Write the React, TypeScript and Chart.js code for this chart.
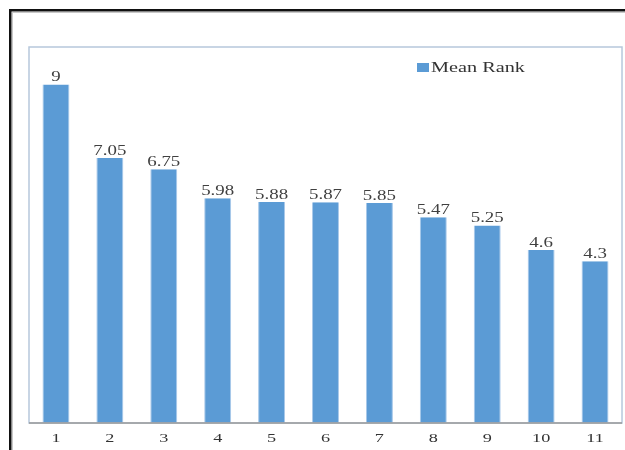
import React, { useEffect, useRef } from "react";
import { Chart, registerables } from "chart.js";

Chart.register(...registerables);

const categories: string[] = ["1", "2", "3", "4", "5", "6", "7", "8", "9", "10", "11"];
const meanRank: number[] = [9, 7.05, 6.75, 5.98, 5.88, 5.87, 5.85, 5.47, 5.25, 4.6, 4.3];
const seriesLabel = "Mean Rank";
const yMin = 0;
const yMax = 10;

const FONT = "'Liberation Serif', 'Times New Roman', serif";
const STRETCH = 1.35;

function stretchedText(ctx: any, text: string, x: number, y: number, align: string) {
  ctx.save();
  ctx.translate(x, y);
  ctx.scale(STRETCH, 1);
  ctx.textAlign = align;
  ctx.fillText(text, 0, 0);
  ctx.restore();
}

const framePlugin = {
  id: "framePlugin",
  beforeDraw(chart: any) {
    const ctx = chart.ctx;
    ctx.save();
    ctx.fillStyle = "#ffffff";
    ctx.fillRect(0, 0, chart.width, chart.height);
    ctx.fillStyle = "#111111";
    ctx.fillRect(9, 9, chart.width, 2.5);
    ctx.fillRect(9, 9, 2.5, chart.height);
    ctx.fillStyle = "#c8c8c8";
    ctx.fillRect(12, 12, chart.width, 1);
    ctx.fillRect(12, 12, 1, chart.height);
    ctx.restore();
  },
  afterDraw(chart: any) {
    const ctx = chart.ctx;
    const a = chart.chartArea;
    ctx.save();
    ctx.strokeStyle = "#b7c8dc";
    ctx.lineWidth = 1.5;
    ctx.strokeRect(a.left, a.top, a.right - a.left, a.bottom - a.top);
    ctx.strokeStyle = "#9a9a9a";
    ctx.beginPath();
    ctx.moveTo(a.left, a.bottom);
    ctx.lineTo(a.right, a.bottom);
    ctx.stroke();
    const xs = chart.scales.x;
    ctx.font = `13.5px ${FONT}`;
    ctx.fillStyle = "#333333";
    ctx.textBaseline = "middle";
    xs.ticks.forEach((t: any, i: number) => {
      const label = chart.data.labels[t.value ?? i];
      stretchedText(ctx, String(label), xs.getPixelForTick(i), a.bottom + 15, "center");
    });
    ctx.restore();
  },
};

const labelPlugin = {
  id: "labelPlugin",
  afterDatasetsDraw(chart: any) {
    const ctx = chart.ctx;
    const meta = chart.getDatasetMeta(0);
    const data = chart.data.datasets[0].data;
    ctx.save();
    ctx.font = `14px ${FONT}`;
    ctx.fillStyle = "#404040";
    ctx.textBaseline = "bottom";
    meta.data.forEach((bar: any, i: number) => {
      stretchedText(ctx, String(data[i]), bar.x, bar.y, "center");
    });
    const lx = 417;
    const ly = 63;
    ctx.fillStyle = "#5b9bd5";
    ctx.fillRect(lx, ly, 12, 9);
    ctx.font = `15px ${FONT}`;
    ctx.fillStyle = "#333333";
    ctx.textBaseline = "middle";
    stretchedText(ctx, chart.data.datasets[0].label, lx + 14, ly + 5, "left");
    ctx.restore();
  },
};

export default function App() {
  const ref = useRef<HTMLCanvasElement | null>(null);
  useEffect(() => {
    if (!ref.current) return;
    const chart = new Chart(ref.current, {
      type: "bar",
      data: {
        labels: categories,
        datasets: [
          {
            label: seriesLabel,
            data: meanRank,
            backgroundColor: "#5b9bd5",
            borderColor: "#a9c9ea",
            borderWidth: { left: 1, right: 1, top: 0, bottom: 0 },
            barPercentage: 0.5,
            categoryPercentage: 1,
          },
        ],
      },
      options: {
        responsive: false,
        animation: false,
        layout: { padding: { left: 29, top: 47, right: 3, bottom: 0 } },
        plugins: { legend: { display: false }, tooltip: { enabled: false } },
        scales: {
          x: {
            grid: { display: false },
            border: { display: false },
            ticks: { font: { family: FONT, size: 13 }, color: "rgba(0,0,0,0)", padding: 0 },
            afterFit: (s: any) => {
              s.height = 27;
            },
          },
          y: { display: false, min: yMin, max: yMax },
        },
      },
      plugins: [framePlugin, labelPlugin],
    });
    return () => chart.destroy();
  }, []);
  return (
    <div style={{ position: "fixed", left: 0, top: 0, width: 625, height: 450 }}>
      <canvas ref={ref} width={625} height={450} style={{ width: 625, height: 450 }} />
    </div>
  );
}
